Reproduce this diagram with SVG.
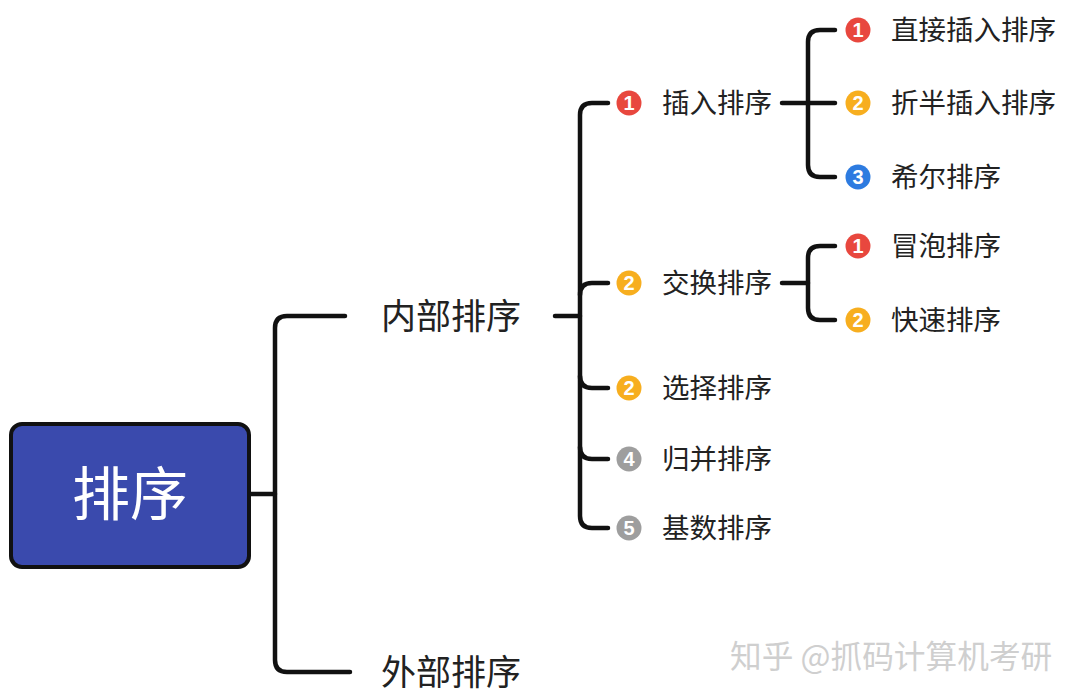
<svg xmlns="http://www.w3.org/2000/svg" width="1080" height="700" viewBox="0 0 1080 700">
<style>
.c{fill:none;stroke:#111;stroke-width:4.5;stroke-linecap:round;stroke-linejoin:round}
.t{font-family:"Noto Sans CJK SC","Noto Sans",sans-serif;fill:#222}
.l2{font-size:35px}
.l3{font-size:27.5px}
.n{font-family:"Liberation Sans",Arial,sans-serif;font-weight:bold;font-size:20px;fill:#fff;text-anchor:middle}
.red{fill:#e8473e}.org{fill:#f7ae1f}.blu{fill:#2d7be0}.gry{fill:#9e9e9e}
</style>
<rect width="1080" height="700" fill="#fff"/>
<g id="connectors">
<path class="c" d="M250 494H275"/>
<path class="c" d="M345 316H287Q275 316 275 328V660Q275 672 287 672H350"/>
<path class="c" d="M555 316H580"/>
<path class="c" d="M608 103H592Q580 103 580 115V516Q580 528 592 528H608"/>
<path class="c" d="M608 283H592Q580 283 580 295"/>
<path class="c" d="M608 388H592Q580 388 580 376"/>
<path class="c" d="M608 459H592Q580 459 580 447"/>
<path class="c" d="M782 103H835"/>
<path class="c" d="M835 30H820Q808 30 808 42V165Q808 177 820 177H835"/>
<path class="c" d="M782 283H808"/>
<path class="c" d="M835 246H820Q808 246 808 258V308Q808 320 820 320H835"/>
</g>
<g id="root">
<rect x="11" y="424" width="238" height="143" rx="11" fill="#3a4aad" stroke="#111" stroke-width="4"/>
<text class="t" x="130" y="515" font-size="58" style="fill:#fff" text-anchor="middle">排序</text>
</g>
<g id="internal"><text class="t l2" x="381" y="329">内部排序</text></g>
<g id="external"><text class="t l2" x="381" y="685">外部排序</text></g>
<g id="insert"><circle class="red" cx="629" cy="103" r="12.5"/><text class="n" x="629" y="110">1</text><text class="t l3" x="662" y="113">插入排序</text></g>
<g id="swap"><circle class="org" cx="629" cy="283" r="12.5"/><text class="n" x="629" y="290">2</text><text class="t l3" x="662" y="293">交换排序</text></g>
<g id="select"><circle class="org" cx="629" cy="388" r="12.5"/><text class="n" x="629" y="395">2</text><text class="t l3" x="662" y="398">选择排序</text></g>
<g id="merge"><circle class="gry" cx="629" cy="459" r="12.5"/><text class="n" x="629" y="466">4</text><text class="t l3" x="662" y="469">归并排序</text></g>
<g id="radix"><circle class="gry" cx="629" cy="528" r="12.5"/><text class="n" x="629" y="535">5</text><text class="t l3" x="662" y="538">基数排序</text></g>
<g id="direct"><circle class="red" cx="858" cy="30" r="12.5"/><text class="n" x="858" y="37">1</text><text class="t l3" x="891" y="40">直接插入排序</text></g>
<g id="binary"><circle class="org" cx="858" cy="103" r="12.5"/><text class="n" x="858" y="110">2</text><text class="t l3" x="891" y="113">折半插入排序</text></g>
<g id="shell"><circle class="blu" cx="858" cy="177" r="12.5"/><text class="n" x="858" y="184">3</text><text class="t l3" x="891" y="187">希尔排序</text></g>
<g id="bubble"><circle class="red" cx="858" cy="246" r="12.5"/><text class="n" x="858" y="253">1</text><text class="t l3" x="891" y="256">冒泡排序</text></g>
<g id="quick"><circle class="org" cx="858" cy="320" r="12.5"/><text class="n" x="858" y="327">2</text><text class="t l3" x="891" y="330">快速排序</text></g>
<text x="730" y="668" font-family="Noto Sans CJK SC,sans-serif" font-size="31.7" fill="#cfcfcf">知乎 @抓码计算机考研</text>
</svg>
